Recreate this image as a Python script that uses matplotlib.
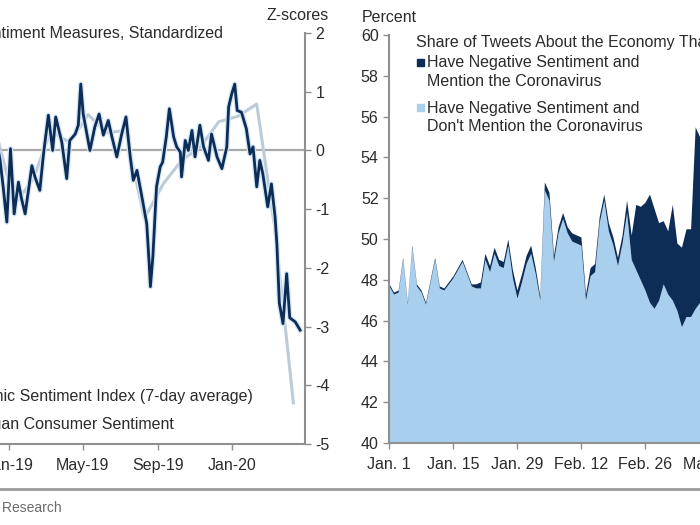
import matplotlib
matplotlib.use("Agg")
import matplotlib.pyplot as plt
import matplotlib.dates as mdates
import matplotlib.patheffects as pe
from matplotlib.lines import Line2D
from matplotlib.patches import Rectangle
import numpy as np
import pandas as pd

plt.rcParams['font.family'] = ['Liberation Sans', 'DejaVu Sans']
plt.rcParams['axes.unicode_minus'] = False

# left panel: economic sentiment index (7-day avg), z-scores
esi_dates = ["2018-12-10", "2018-12-17", "2018-12-22", "2018-12-28", "2019-01-03", "2019-01-09",
             "2019-01-16", "2019-01-21", "2019-01-27", "2019-02-07", "2019-02-12", "2019-02-20",
             "2019-02-26", "2019-03-06", "2019-03-13", "2019-03-18", "2019-03-28", "2019-04-05",
             "2019-04-10", "2019-04-19", "2019-04-24", "2019-04-28", "2019-05-02", "2019-05-13",
             "2019-05-21", "2019-05-28", "2019-06-04", "2019-06-12", "2019-06-18", "2019-06-26",
             "2019-07-04", "2019-07-11", "2019-07-18", "2019-07-23", "2019-07-29", "2019-08-06",
             "2019-08-14", "2019-08-18", "2019-08-20", "2019-08-24", "2019-08-30", "2019-09-05",
             "2019-09-09", "2019-09-15", "2019-09-20", "2019-09-27", "2019-10-02", "2019-10-08",
             "2019-10-10", "2019-10-16", "2019-10-21", "2019-10-27", "2019-11-01", "2019-11-09",
             "2019-11-15", "2019-11-23", "2019-11-28", "2019-12-07", "2019-12-15", "2019-12-23",
             "2019-12-26", "2019-12-31", "2020-01-05", "2020-01-09", "2020-01-16", "2020-01-24",
             "2020-01-30", "2020-02-04", "2020-02-10", "2020-02-15", "2020-02-20", "2020-02-28",
             "2020-03-05", "2020-03-11", "2020-03-14", "2020-03-18", "2020-03-24", "2020-03-30",
             "2020-04-04", "2020-04-13", "2020-04-21"]
esi_vals = [0.25, -0.17, -0.62, -1.22, 0.03, -1.08,
            -0.54, -0.82, -1.08, -0.26, -0.45, -0.68,
            -0.06, 0.60, 0.00, 0.57, 0.14, -0.48,
            0.17, 0.28, 0.43, 1.13, 0.62, 0.00,
            0.40, 0.62, 0.26, 0.51, 0.23, -0.11,
            0.28, 0.57, -0.11, -0.51, -0.34, -0.79,
            -1.25, -1.93, -2.32, -1.81, -0.62, -0.28,
            -0.20, 0.23, 0.71, 0.23, 0.06, -0.03,
            -0.45, 0.17, 0.00, 0.34, -0.11, 0.43,
            0.06, -0.17, 0.28, -0.11, -0.31, 0.06,
            0.74, 0.96, 1.13, 0.68, 0.65, 0.37,
            -0.06, 0.06, -0.62, -0.17, -0.40, -0.96,
            -0.57, -1.13, -1.60, -2.60, -2.95, -2.10,
            -2.85, -2.92, -3.06]

# Michigan consumer sentiment, monthly, z-scores
umich_dates = ["2018-12-10", "2019-01-10", "2019-02-10", "2019-03-10", "2019-04-10", "2019-05-10",
               "2019-06-10", "2019-07-10", "2019-08-10", "2019-09-10", "2019-10-10", "2019-11-10",
               "2019-12-10", "2020-01-10", "2020-02-10", "2020-03-10", "2020-04-10"]
umich_vals = [0.32, -0.92, -0.47, 0.34, 0.13, 0.61, 0.30, 0.34, -1.16, -0.57, -0.17, 0.06,
              0.49, 0.58, 0.79, -1.28, -4.30]

# right panel: share of tweets about the economy, daily from Jan 1 2020
tweet_start = "2020-01-01"
no_covid = [47.7, 47.3, 47.4, 49.0, 46.8, 49.6, 47.7, 47.4, 46.8, 47.9,
            49.0, 47.6, 47.5, 47.8, 48.1, 48.5, 48.9, 48.3, 47.7, 47.6,
            47.6, 49.0, 48.4, 49.3, 48.7, 48.6, 49.7, 48.1, 47.1, 47.9,
            48.8, 49.3, 48.3, 47.0, 52.4, 51.9, 48.9, 50.3, 51.0, 50.3,
            49.9, 49.8, 49.7, 47.0, 48.2, 48.4, 50.8, 51.9, 50.4, 49.7,
            48.7, 49.8, 51.3, 49.0, 48.5, 48.0, 47.5, 46.9, 46.6, 47.0,
            47.8, 47.3, 47.0, 46.5, 45.7, 46.2, 46.2, 46.6, 46.9]
covid = [0.1, 0.1, 0.1, 0.1, 0.1, 0.1, 0.1, 0.1, 0.1, 0.1,
         0.1, 0.1, 0.1, 0.1, 0.1, 0.1, 0.1, 0.1, 0.1, 0.2,
         0.3, 0.3, 0.3, 0.3, 0.3, 0.3, 0.3, 0.4, 0.4, 0.4,
         0.4, 0.4, 0.3, 0.2, 0.4, 0.4, 0.3, 0.3, 0.3, 0.3,
         0.4, 0.4, 0.4, 0.3, 0.4, 0.4, 0.3, 0.3, 0.4, 0.4,
         0.4, 0.4, 0.6, 1.2, 3.2, 3.6, 4.3, 5.3, 4.9, 3.8,
         3.1, 3.1, 4.7, 3.3, 3.9, 4.3, 4.3, 8.9, 8.1]

left_ticks = ["2019-01-01", "2019-05-01", "2019-09-01", "2020-01-01"]
right_ticks = ["2020-01-01", "2020-01-15", "2020-01-29", "2020-02-12", "2020-02-26", "2020-03-11"]
right_labels = ["Jan. 1", "Jan. 15", "Jan. 29", "Feb. 12", "Feb. 26", "Mar. 11"]

navy = '#0d2d57'
light = '#a9cfee'
grey = '#8f8f8f'
txt = '#2b2b2b'

W, H = 700, 525
fig = plt.figure(figsize=(7, 5.25), dpi=100)

# ---- left panel
ax1 = fig.add_axes([-28 / W, 81 / H, 333 / W, 411 / H])
ax1.axhline(0, color='#a8a8a8', lw=1.6, zorder=1)
ax1.plot(pd.to_datetime(umich_dates), umich_vals, color='#bccbd8', lw=2.2, zorder=2)
ax1.plot(pd.to_datetime(esi_dates), esi_vals, color=navy, lw=2.0, zorder=3,
         path_effects=[pe.Stroke(linewidth=3.8, foreground='#d3e6f5'), pe.Normal()])
ax1.set_xlim(pd.Timestamp("2018-11-01"), pd.Timestamp("2020-04-29"))
ax1.set_ylim(-5, 2)
ax1.set_yticks(np.arange(-5, 3, 1))
ax1.yaxis.tick_right()
ax1.set_xticks(pd.to_datetime(left_ticks))
ax1.xaxis.set_major_formatter(mdates.DateFormatter('%b-%y'))
for s in ['left', 'top']:
    ax1.spines[s].set_visible(False)

# ---- right panel
ax2 = fig.add_axes([389 / W, 82 / H, 361 / W, 408 / H])
d = pd.date_range(tweet_start, periods=len(no_covid))
base = np.array(no_covid)
ax2.fill_between(d, 40, base, color=light, lw=0)
ax2.fill_between(d, base, base + np.array(covid), color=navy, lw=0)
ax2.set_xlim(pd.Timestamp(tweet_start), pd.Timestamp("2020-03-20"))
ax2.set_ylim(40, 60)
ax2.set_yticks(np.arange(40, 61, 2))
ax2.set_xticks(pd.to_datetime(right_ticks))
ax2.set_xticklabels(right_labels)
for s in ['right', 'top']:
    ax2.spines[s].set_visible(False)

for ax in (ax1, ax2):
    for s in ax.spines.values():
        s.set_color(grey)
        s.set_linewidth(1.5)
    ax.tick_params(colors=grey, labelcolor=txt, labelsize=11.5, length=4, width=1)
    ax.tick_params(axis='x', pad=6)

# ---- texts
def ft(x, y, s, **kw):
    kw.setdefault('fontsize', 11.5)
    kw.setdefault('color', txt)
    kw.setdefault('va', 'center')
    fig.text(x / W, 1 - y / H, s, **kw)

ft(298, 15, 'Z-scores', ha='center', fontsize=11.5)
ft(362, 17, 'Percent', ha='left', fontsize=11.5)
ft(223, 33, 'Sentiment Measures, Standardized', ha='right')
ft(253, 397, 'Economic Sentiment Index (7-day average)', ha='right')
ft(174, 425, 'Michigan Consumer Sentiment', ha='right')

ft(416, 43, 'Share of Tweets About the Economy That:', ha='left')
ft(427, 63, 'Have Negative Sentiment and', ha='left')
ft(427, 81, 'Mention the Coronavirus', ha='left')
ft(427, 108, 'Have Negative Sentiment and', ha='left')
ft(427, 127, "Don't Mention the Coronavirus", ha='left')
fig.add_artist(Rectangle((417 / W, 1 - 66 / H), 7 / W, 7 / H, transform=fig.transFigure, color=navy))
fig.add_artist(Rectangle((417 / W, 1 - 111 / H), 7 / W, 7 / H, transform=fig.transFigure, color=light))

fig.add_artist(Line2D([0, 1], [1 - 489 / H, 1 - 489 / H], transform=fig.transFigure, color='#9c9c9c', lw=2))
ft(62, 508, 'Source: Goldman Sachs Global Investment Research', ha='right', fontsize=10, color='#6a6a6a')

fig.savefig('out.png', dpi=100)
